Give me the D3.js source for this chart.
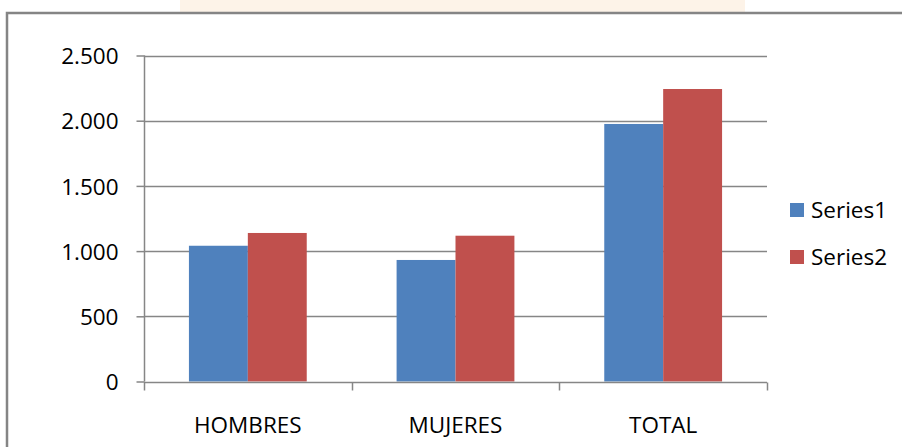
<!DOCTYPE html>
<html><head><meta charset="utf-8">
<script src="https://cdn.jsdelivr.net/npm/d3@7"></script>
<style>html,body{margin:0;padding:0;background:#fff;overflow:hidden}</style>
</head><body>
<svg id="c" width="902" height="447"></svg>
<script>
const categories = ["HOMBRES", "MUJERES", "TOTAL"];
const seriesNames = ["Series1", "Series2"];
const series1 = [1041, 932, 1975];
const series2 = [1139, 1118, 2243];
const yTicks = [0, 500, 1000, 1500, 2000, 2500];
const colors = ["#4F81BD", "#C0504D"];

(function () {
const svg = d3.select("#c");
const font = "'Open Sans', sans-serif";
const grid = "#868686";

// faint decorative band at top
svg.append("rect").attr("x", 180).attr("y", 0).attr("width", 565).attr("height", 12).attr("fill", "#fdf3e8");
// frame
svg.append("rect").attr("x", 7).attr("y", 13).attr("width", 920).attr("height", 460)
  .attr("fill", "none").attr("stroke", "#858585").attr("stroke-width", 2.5);

const pL = 144, pR = 767, pT = 55.5, pB = 381.5;
const y = d3.scaleLinear().domain([0, 2500]).range([pB, pT]);
const x0 = d3.scaleBand().domain(categories).range([pL, pR])
  .paddingInner(90/208).paddingOuter(45/208);
const x1 = d3.scaleBand().domain(seriesNames).range([0, x0.bandwidth()]);
const fmt = d3.formatLocale({decimal: ",", thousands: ".", grouping: [3], currency: ["", ""]}).format(",d");

// gridlines
svg.append("g").selectAll("line").data(yTicks.filter(d => d > 0)).join("line")
  .attr("x1", pL).attr("x2", pR).attr("y1", d => Math.round(y(d)) + 0.5).attr("y2", d => Math.round(y(d)) + 0.5)
  .attr("stroke", grid).attr("stroke-width", 1.5);

// y axis
const ya = svg.append("g").attr("transform", `translate(${pL + 0.5},0)`)
  .call(d3.axisLeft(y).tickValues(yTicks).tickFormat(fmt).tickSize(8).tickPadding(18));
ya.select(".domain").attr("stroke", grid).attr("stroke-width", 1.5).attr("d", `M0,${pT}V${pB}`);
ya.selectAll(".tick line").attr("stroke", grid).attr("stroke-width", 1.5);
ya.selectAll("text").attr("font-family", font).attr("font-size", 22.5).attr("fill", "#000").attr("dy", "0.36em");

// bars
const data = categories.map((c, i) => ({c, vals: [series1[i], series2[i]]}));
const g = svg.append("g");
data.forEach(d => {
  d.vals.forEach((v, j) => {
    g.append("rect")
      .attr("x", x0(d.c) + x1(seriesNames[j]))
      .attr("y", y(v))
      .attr("width", x1.bandwidth())
      .attr("height", y(0) - y(v))
      .attr("fill", colors[j]);
  });
});

// x axis
const xa = svg.append("g").attr("transform", `translate(0,${Math.round(pB) + 0.5})`);
xa.append("line").attr("x1", pL).attr("x2", pR).attr("stroke", grid).attr("stroke-width", 1.5);
const boundaries = categories.map(c => x0(c) - x0.step() * x0.paddingOuter()).concat([pR]);
xa.selectAll("line.t").data(boundaries).join("line").attr("class", "t")
  .attr("x1", d => Math.round(d) + 0.5).attr("x2", d => Math.round(d) + 0.5).attr("y1", 0).attr("y2", 8)
  .attr("stroke", grid).attr("stroke-width", 1.5);
xa.selectAll("text").data(categories).join("text")
  .attr("x", d => x0(d) + x0.bandwidth() / 2).attr("y", 50)
  .attr("text-anchor", "middle").attr("font-family", font).attr("font-size", 22.5).attr("fill", "#000")
  .text(d => d);

// legend
const lg = svg.append("g");
seriesNames.forEach((s, i) => {
  lg.append("rect").attr("x", 790).attr("y", 203 + i * 47).attr("width", 14).attr("height", 14).attr("fill", colors[i]);
  lg.append("text").attr("x", 811).attr("y", 218 + i * 47).attr("font-family", font).attr("font-size", 22.5)
    .attr("fill", "#000").text(s);
});
})();
</script>
</body></html>
